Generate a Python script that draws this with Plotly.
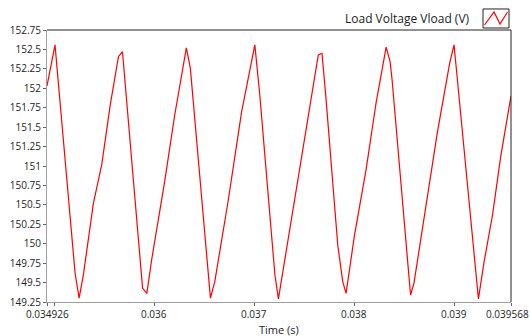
import plotly.graph_objects as go

# Data
time_s = [0.034926, 0.035006, 0.035207, 0.035247, 0.035290, 0.035390, 0.035474, 0.035558,
          0.035641, 0.035681, 0.035882, 0.035925, 0.035975, 0.036103, 0.036203, 0.036320,
          0.036360, 0.036521, 0.036561, 0.036604, 0.036737, 0.036872, 0.037005, 0.037055,
          0.037206, 0.037241, 0.037366, 0.037517, 0.037640, 0.037677, 0.037717, 0.037835,
          0.037885, 0.037918, 0.038001, 0.038119, 0.038219, 0.038319, 0.038359, 0.038379,
          0.038563, 0.038597, 0.038713, 0.038831, 0.038954, 0.038998, 0.039031, 0.039182,
          0.039242, 0.039299, 0.039382, 0.039466, 0.039568]
vload = [152.03, 152.56, 149.62, 149.30, 149.60, 150.52, 151.02, 151.78,
         152.41, 152.47, 149.43, 149.36, 149.81, 150.80, 151.65, 152.52,
         152.26, 149.86, 149.30, 149.51, 150.54, 151.69, 152.56, 151.91,
         149.60, 149.29, 150.28, 151.48, 152.43, 152.45, 151.87, 149.98,
         149.51, 149.36, 150.10, 150.96, 151.82, 152.53, 152.34, 152.10,
         149.34, 149.49, 150.45, 151.43, 152.32, 152.56, 152.12, 150.02,
         149.29, 149.77, 150.36, 151.13, 151.90]

x_tickvals = [0.034926, 0.035, 0.036, 0.037, 0.038, 0.039, 0.039568]
x_ticktext = ["0.034926", "", "0.036", "0.037", "0.038", "0.039", "0.039568"]
y_tickvals = [149.25, 149.5, 149.75, 150, 150.25, 150.5, 150.75, 151, 151.25,
              151.5, 151.75, 152, 152.25, 152.5, 152.75]
y_ticktext = ["149.25", "149.5", "149.75", "150", "150.25", "150.5", "150.75", "151",
              "151.25", "151.5", "151.75", "152", "152.25", "152.5", "152.75"]

series_name = "Load Voltage Vload (V)"
x_title = "Time (s)"

FONT = "Open Sans"
TXT = "#222222"
fig = go.Figure()
fig.add_trace(go.Scatter(x=time_s, y=vload, mode="lines", name=series_name,
                         line=dict(color="#ff0000", width=1.2), showlegend=False))

W, H = 530, 336
L, R, T, B = 47, 19, 30, 34.3
pw, ph = W - L - R, H - T - B

def px(x):
    return (x - L) / pw

def py(y):
    return (H - B - y) / ph

fig.update_layout(
    width=W, height=H,
    margin=dict(l=L, r=R, t=T, b=B, pad=0),
    paper_bgcolor="white", plot_bgcolor="white",
    font=dict(family=FONT, size=10, color=TXT),
    xaxis=dict(range=[x_tickvals[0], x_tickvals[-1]], tickvals=x_tickvals,
               ticktext=[""] * len(x_tickvals), automargin=False,
               showgrid=False, zeroline=False, showline=True, linecolor="#a0a0a0",
               linewidth=1, ticks="outside", ticklen=3, tickcolor="#606060"),
    yaxis=dict(range=[149.25, 152.75], tickvals=y_tickvals, ticktext=y_ticktext,
               automargin=False,
               showgrid=False, zeroline=False, showline=True, linecolor="#a0a0a0",
               linewidth=1, ticks="outside", ticklen=3, tickcolor="#606060",
               tickfont=dict(family=FONT, size=10, color=TXT)),
    showlegend=False,
)

# x tick labels (the last one is kept inside the page, as in the reference)
for i, (v, t) in enumerate(zip(x_tickvals, x_ticktext)):
    if not t:
        continue
    if i == len(x_tickvals) - 1:
        fig.add_annotation(text=t, xref="paper", yref="paper", x=px(531), y=py(314),
                           xanchor="right", yanchor="middle", showarrow=False,
                           font=dict(family=FONT, size=10, color=TXT))
    else:
        fig.add_annotation(text=t, xref="x", yref="paper", x=v, y=py(314),
                           xanchor="center", yanchor="middle", showarrow=False,
                           font=dict(family=FONT, size=10, color=TXT))

# top and right frame lines (dark)
fig.add_shape(type="line", xref="paper", yref="paper", x0=0, x1=1, y0=1, y1=1,
              line=dict(color="#222222", width=1))
fig.add_shape(type="line", xref="paper", yref="paper", x0=1, x1=1, y0=0, y1=1,
              line=dict(color="#222222", width=1))

# legend (text + boxed icon)
fig.add_annotation(text=series_name, xref="paper", yref="paper", x=px(472), y=py(18.6),
                   xanchor="right", yanchor="middle", showarrow=False,
                   font=dict(family=FONT, size=12, color=TXT))
fig.add_shape(type="rect", xref="paper", yref="paper", x0=px(483), x1=px(509),
              y0=py(28), y1=py(9), line=dict(color="#222222", width=1), fillcolor="white")
icon = [(484.5, 25), (494, 12), (500, 24), (507.5, 12)]
path = "M " + " L ".join(f"{px(a):.4f},{py(b):.4f}" for a, b in icon)
fig.add_shape(type="path", xref="paper", yref="paper", path=path,
              line=dict(color="#ff0000", width=1.2))

fig.add_annotation(text=x_title, xref="paper", yref="paper", x=0.5, y=py(329.5),
                   xanchor="center", yanchor="middle", showarrow=False,
                   font=dict(family=FONT, size=11, color=TXT))

fig.write_html("out.html")
